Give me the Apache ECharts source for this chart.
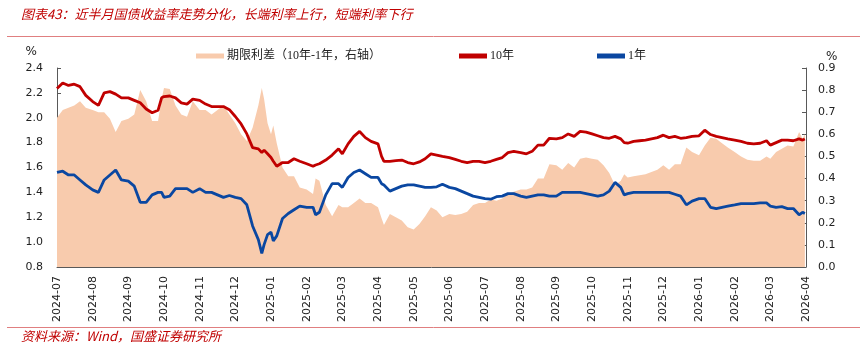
<!DOCTYPE html>
<html>
<head>
<meta charset="utf-8">
<script src="https://cdn.jsdelivr.net/npm/echarts@6/dist/echarts.min.js"></script>
<style>
  html, body { margin: 0; padding: 0; background: #fff; }
  #chart { width: 867px; height: 350px; }
</style>
</head>
<body>
<div id="chart"></div>
<script>
// x轴月份标签
const monthLabels = [
  '2024-07', '2024-08', '2024-09', '2024-10', '2024-11', '2024-12',
  '2025-01', '2025-02', '2025-03', '2025-04', '2025-05', '2025-06',
  '2025-07', '2025-08', '2025-09', '2025-10', '2025-11', '2025-12',
  '2026-01', '2026-02', '2026-03', '2026-04'
]

const dates = [
  '2024-07-01', '2024-07-06', '2024-07-11', '2024-07-16', '2024-07-21', '2024-07-26',
  '2024-08-01', '2024-08-06', '2024-08-11', '2024-08-16', '2024-08-21', '2024-08-26',
  '2024-09-01', '2024-09-06', '2024-09-11', '2024-09-16', '2024-09-21', '2024-09-26', '2024-09-29',
  '2024-10-01', '2024-10-06', '2024-10-11', '2024-10-16', '2024-10-21', '2024-10-26',
  '2024-11-01', '2024-11-06', '2024-11-11', '2024-11-16', '2024-11-21', '2024-11-26',
  '2024-12-01', '2024-12-06', '2024-12-11', '2024-12-16', '2024-12-21', '2024-12-24', '2024-12-26', '2024-12-29',
  '2025-01-01', '2025-01-03', '2025-01-06', '2025-01-11', '2025-01-16', '2025-01-21', '2025-01-26',
  '2025-02-01', '2025-02-06', '2025-02-08', '2025-02-11', '2025-02-16', '2025-02-21', '2025-02-26',
  '2025-03-01', '2025-03-06', '2025-03-11', '2025-03-16', '2025-03-21', '2025-03-26',
  '2025-04-01', '2025-04-04', '2025-04-06', '2025-04-11', '2025-04-16', '2025-04-21', '2025-04-26',
  '2025-05-01', '2025-05-06', '2025-05-11', '2025-05-16', '2025-05-21', '2025-05-26',
  '2025-06-01', '2025-06-06', '2025-06-11', '2025-06-16', '2025-06-21', '2025-06-26',
  '2025-07-01', '2025-07-06', '2025-07-11', '2025-07-16', '2025-07-21', '2025-07-26',
  '2025-08-01', '2025-08-06', '2025-08-11', '2025-08-16', '2025-08-21', '2025-08-26',
  '2025-09-01', '2025-09-06', '2025-09-11', '2025-09-16', '2025-09-21', '2025-09-26',
  '2025-10-01', '2025-10-06', '2025-10-11', '2025-10-16', '2025-10-21', '2025-10-26', '2025-10-29',
  '2025-11-01', '2025-11-06', '2025-11-11', '2025-11-16', '2025-11-21', '2025-11-26',
  '2025-12-01', '2025-12-06', '2025-12-11', '2025-12-16', '2025-12-21', '2025-12-26',
  '2026-01-01', '2026-01-06', '2026-01-11', '2026-01-16', '2026-01-21', '2026-01-26',
  '2026-02-01', '2026-02-06', '2026-02-11', '2026-02-16', '2026-02-21', '2026-02-26',
  '2026-03-01', '2026-03-06', '2026-03-11', '2026-03-16', '2026-03-21', '2026-03-26', '2026-03-29', '2026-03-31'
]

// 10年国债收益率 (%)
const yield10y = [
  2.235, 2.28, 2.26, 2.27, 2.25, 2.18,
  2.13, 2.10, 2.20, 2.21, 2.19, 2.16,
  2.16, 2.14, 2.12, 2.07, 2.04, 2.06, 2.16,
  2.17, 2.175, 2.16, 2.12, 2.11, 2.15,
  2.14, 2.11, 2.09, 2.09, 2.09, 2.065,
  2.01, 1.95, 1.87, 1.76, 1.75, 1.72, 1.74, 1.71,
  1.68, 1.65, 1.61, 1.64, 1.64, 1.67, 1.65,
  1.63, 1.61, 1.62, 1.63, 1.66, 1.70, 1.75,
  1.71, 1.79, 1.85, 1.89, 1.84, 1.81,
  1.79, 1.69, 1.65, 1.65, 1.655, 1.66, 1.64,
  1.63, 1.645, 1.67, 1.71, 1.70, 1.69,
  1.68, 1.665, 1.65, 1.64, 1.65, 1.65,
  1.64, 1.65, 1.665, 1.68, 1.72, 1.73,
  1.72, 1.71, 1.73, 1.78, 1.78, 1.835,
  1.83, 1.84, 1.87, 1.85, 1.89, 1.885,
  1.87, 1.855, 1.84, 1.835, 1.85, 1.83, 1.80,
  1.795, 1.81, 1.815, 1.82, 1.83, 1.84,
  1.86, 1.84, 1.85, 1.835, 1.84, 1.85,
  1.855, 1.90, 1.865, 1.85, 1.84, 1.83,
  1.82, 1.81, 1.795, 1.79, 1.795, 1.815,
  1.78, 1.80, 1.82, 1.82, 1.815, 1.83, 1.82, 1.83
]

// 1年国债收益率 (%)
const yield1y = [
  1.56, 1.57, 1.54, 1.54, 1.50, 1.46,
  1.42, 1.40, 1.50, 1.54, 1.58, 1.50,
  1.49, 1.45, 1.32, 1.32, 1.38, 1.40, 1.40,
  1.36, 1.37, 1.43, 1.43, 1.43, 1.40,
  1.43, 1.40, 1.40, 1.38, 1.36, 1.375,
  1.36, 1.35, 1.30, 1.13, 1.02, 0.91, 0.98, 1.06,
  1.08, 1.01, 1.05, 1.19, 1.23, 1.26, 1.29,
  1.28, 1.28, 1.22, 1.24, 1.38, 1.47, 1.47,
  1.44, 1.52, 1.56, 1.58, 1.55, 1.52,
  1.52, 1.47, 1.46, 1.41, 1.43, 1.45, 1.46,
  1.46, 1.45, 1.44, 1.44, 1.445, 1.465,
  1.44, 1.43, 1.41, 1.39, 1.37, 1.36,
  1.35, 1.345, 1.365, 1.37, 1.39, 1.39,
  1.37, 1.36, 1.37, 1.38, 1.38, 1.37,
  1.37, 1.40, 1.40, 1.40, 1.40, 1.39,
  1.38, 1.37, 1.38, 1.41, 1.48, 1.44, 1.38,
  1.39, 1.40, 1.40, 1.40, 1.40, 1.40,
  1.40, 1.40, 1.385, 1.37, 1.30, 1.33,
  1.35, 1.35, 1.28, 1.27, 1.28, 1.29,
  1.30, 1.31, 1.31, 1.31, 1.315, 1.315,
  1.29, 1.28, 1.285, 1.27, 1.27, 1.22, 1.24, 1.23
]

const SPREAD_NAME = '期限利差（10年-1年，右轴）'
const CJK = '"Noto Sans CJK SC", "Noto Sans", sans-serif'
const LEGEND_FONT = '"Liberation Serif", "Noto Sans CJK SC", serif'
const NUM = '"DejaVu Sans", Verdana, sans-serif'

// 日期 -> 以2024-07为起点的月份位置
function monthPos(d) {
  const [y, m, day] = d.split('-').map(Number)
  const dim = new Date(y, m, 0).getDate()
  return (y - 2024) * 12 + (m - 7) + (day - 1) / dim
}

const xs = dates.map(monthPos)
const data10 = xs.map((x, i) => [x, yield10y[i]])
const data1 = xs.map((x, i) => [x, yield1y[i]])
// 期限利差 = 10年 - 1年
const dataSpread = xs.map((x, i) => [x, +(yield10y[i] - yield1y[i]).toFixed(3)])

const chart = echarts.init(document.getElementById('chart'))

const axisLineStyle = { color: '#595959', width: 1 }

function legendAt(left, name) {
  return {
    left, top: 50, padding: 0,
    icon: 'rect',
    itemWidth: 28, itemHeight: 5,
    textStyle: { color: '#222', fontSize: 12, fontFamily: LEGEND_FONT, padding: [0, 0, 0, -2] },
    data: [name]
  }
}

chart.setOption({
  animation: false,
  title: [
    {
      text: '图表43：近半月国债收益率走势分化，长端利率上行，短端利率下行',
      left: 16, top: 3,
      textStyle: { color: '#C00000', fontSize: 13, fontWeight: 'normal', fontStyle: 'italic', fontFamily: CJK }
    },
    {
      text: '资料来源：Wind，国盛证券研究所',
      left: 16, top: 325,
      textStyle: { color: '#C00000', fontSize: 13, fontWeight: 'normal', fontStyle: 'italic', fontFamily: CJK }
    }
  ],
  graphic: [
    { type: 'line', shape: { x1: 7, y1: 36.5, x2: 860, y2: 36.5 }, style: { stroke: '#E07F80', lineWidth: 1 } },
    { type: 'line', shape: { x1: 7, y1: 327.5, x2: 860, y2: 327.5 }, style: { stroke: '#E07F80', lineWidth: 1 } }
  ],
  legend: [
    legendAt(196, SPREAD_NAME),
    legendAt(459, '10年'),
    legendAt(597, '1年')
  ],
  grid: { left: 57, right: 61, top: 68, bottom: 83 },
  xAxis: {
    type: 'value',
    min: 0, max: 21, interval: 1,
    splitLine: { show: false },
    axisLine: { lineStyle: axisLineStyle },
    axisTick: { show: false },
    axisLabel: {
      rotate: 90, margin: 9,
      color: '#222', fontSize: 11, fontFamily: NUM,
      formatter: (v) => monthLabels[Math.round(v)] || ''
    }
  },
  yAxis: [
    {
      type: 'value',
      min: 0.8, max: 2.4, interval: 0.2,
      name: '%', nameLocation: 'end', nameGap: 10,
      nameTextStyle: { color: '#222', fontSize: 12, fontFamily: NUM, align: 'right', padding: [0, 20, 0, 0] },
      splitLine: { show: false },
      axisLine: { show: true, lineStyle: axisLineStyle },
      axisTick: { show: true, inside: true, length: 4, lineStyle: axisLineStyle },
      axisLabel: { color: '#222', fontSize: 11, fontFamily: NUM, margin: 14, formatter: (v) => v.toFixed(1) }
    },
    {
      type: 'value',
      min: 0, max: 0.9, interval: 0.1,
      name: '%', nameLocation: 'end', nameGap: 5,
      nameTextStyle: { color: '#222', fontSize: 12, fontFamily: NUM, align: 'left', padding: [0, 0, 0, 20] },
      splitLine: { show: false },
      axisLine: { show: true, lineStyle: axisLineStyle },
      axisTick: { show: true, inside: true, length: 4, lineStyle: axisLineStyle },
      axisLabel: { color: '#222', fontSize: 11, fontFamily: NUM, margin: 12, formatter: (v) => v.toFixed(1) }
    }
  ],
  series: [
    {
      name: SPREAD_NAME,
      type: 'line',
      yAxisIndex: 1,
      data: dataSpread,
      symbol: 'none',
      color: '#F8CBAD',
      lineStyle: { width: 0 },
      areaStyle: { color: '#F8CBAD', opacity: 1 },
      z: 1
    },
    {
      name: '10年',
      type: 'line',
      yAxisIndex: 0,
      data: data10,
      symbol: 'none',
      color: '#C00000',
      lineStyle: { width: 2.8, color: '#C00000' },
      z: 3
    },
    {
      name: '1年',
      type: 'line',
      yAxisIndex: 0,
      data: data1,
      symbol: 'none',
      color: '#0A47A1',
      lineStyle: { width: 2.8, color: '#0A47A1' },
      z: 3
    }
  ]
})
</script>
</body>
</html>
